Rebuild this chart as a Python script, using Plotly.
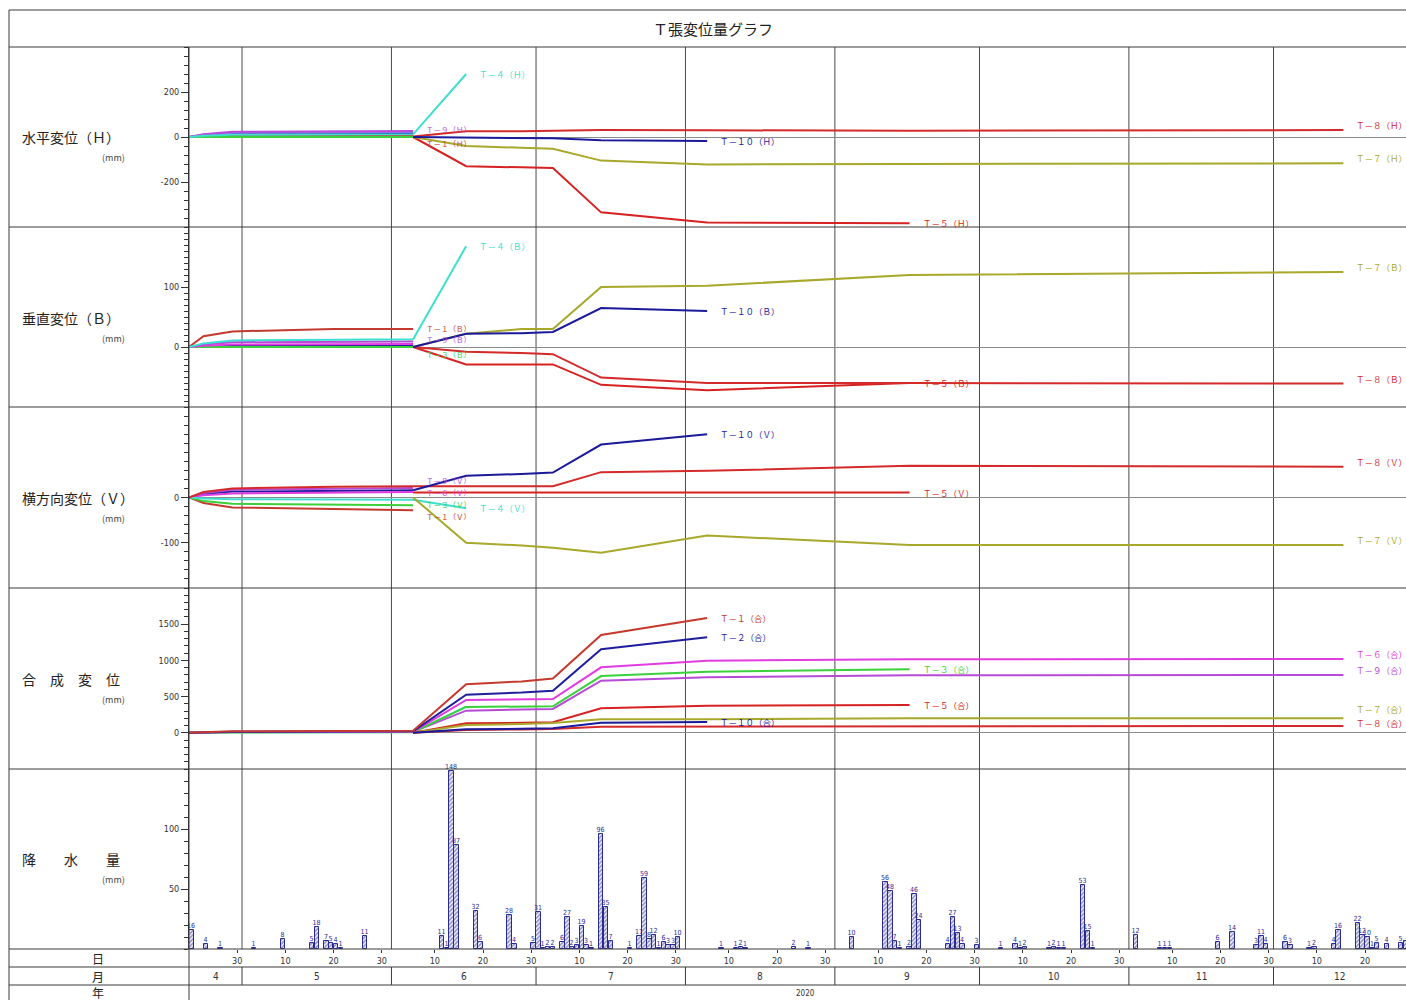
import plotly.graph_objects as go
import pandas as pd

N = None
# measurement dates (common to all instruments)
DATES = ["2020-04-20 00:00", "2020-04-23 00:00", "2020-04-29 00:00", "2020-05-20 00:00",
         "2020-06-05 12:00", "2020-06-16 12:00", "2020-06-28 00:00", "2020-07-04 12:00",
         "2020-07-14 12:00", "2020-08-05 12:00", "2020-09-16 12:00", "2020-12-15 12:00"]

# 水平変位 (H) mm
H_T1 = [0, 4, 7, 8, 8, N, N, N, N, N, N, N]
H_T2 = [0, 8, 15, 17, 18, N, N, N, N, N, N, N]
H_T3 = [0, 0, 1, 1, 0, N, N, N, N, N, N, N]
H_T4 = [0, 6, 10, 11, 12, 280, N, N, N, N, N, N]
H_T6 = [0, 10, 19, 21, 22, N, N, N, N, N, N, N]
H_T9 = [0, 12, 23, 26, 27, N, N, N, N, N, N, N]
H_T5 = [N, N, N, N, 0, -130, -135, -138, -335, -380, -383, N]
H_T7 = [N, N, N, N, 0, -40, -48, -52, -105, -122, -120, -117]
H_T8 = [N, N, N, N, 2, 25, 26, 27, 31, 30, 28, 31]
H_T10 = [N, N, N, N, 0, -3, -5, -6, -15, -18, N, N]

# 垂直変位 (B) mm
B_T1 = [0, 18, 26, 30, 30, N, N, N, N, N, N, N]
B_T2 = [0, 1, 2, 2, 2, N, N, N, N, N, N, N]
B_T3 = [0, 0, 0, 0, 0, N, N, N, N, N, N, N]
B_T4 = [0, 6, 11, 12, 13, 168, N, N, N, N, N, N]
B_T6 = [0, 2, 4, 5, 5, N, N, N, N, N, N, N]
B_T9 = [0, 4, 8, 9, 9, N, N, N, N, N, N, N]
B_T5 = [N, N, N, N, 0, -29, -29, -29, -63, -72, -60, N]
B_T7 = [N, N, N, N, 0, 22, 30, 30, 100, 102, 120, 125]
B_T8 = [N, N, N, N, 0, -8, -10, -12, -51, -60, -60, -61]
B_T10 = [N, N, N, N, 0, 22, 23, 25, 65, 60, N, N]

# 横方向変位 (V) mm
V_T1 = [0, -12, -22, -26, -28, N, N, N, N, N, N, N]
V_T2 = [0, 8, 13, 15, 16, N, N, N, N, N, N, N]
V_T3 = [0, -8, -14, -16, -17, N, N, N, N, N, N, N]
V_T4 = [0, -2, -4, -5, -5, -24, N, N, N, N, N, N]
V_T6 = [0, 5, 9, 11, 12, N, N, N, N, N, N, N]
V_T9 = [0, 10, 17, 20, 21, N, N, N, N, N, N, N]
V_T8 = [0, 12, 20, 24, 25, 25, 25, 25, 56, 59, 70, 68]
V_T5 = [N, N, N, N, 11, 11, 11, 11, 11, 11, 11, N]
V_T7 = [N, N, N, N, 0, -100, -106, -111, -122, -84, -105, -105]
V_T10 = [N, N, N, N, 16, 48, 52, 55, 117, 140, N, N]

# 合成変位 mm
C_T1 = [0, 10, 20, 25, 30, 670, 710, 750, 1350, 1585, N, N]
C_T2 = [0, 8, 15, 18, 20, 527, 555, 582, 1153, 1319, N, N]
C_T3 = [0, 3, 5, 6, 8, 358, 362, 365, 784, 844, 877, N]
C_T4 = [0, 3, 6, 8, 10, 361, N, N, N, N, N, N]
C_T6 = [0, 5, 10, 12, 15, 453, 460, 467, 904, 996, 1015, 1020]
C_T9 = [0, 5, 10, 12, 15, 306, 318, 329, 720, 766, 794, 800]
C_T5 = [N, N, N, N, 0, 131, 138, 145, 338, 375, 384, N]
C_T7 = [N, N, N, N, 0, 108, 122, 135, 186, 186, 200, 200]
C_T8 = [N, N, N, N, 0, 39, 47, 54, 84, 87, 90, 95]
C_T10 = [N, N, N, N, 0, 48, 55, 62, 140, 149, N, N]

# 降水量 (daily) mm
RAIN_DATES = ["2020-04-20", "2020-04-23", "2020-04-26", "2020-05-03", "2020-05-09", "2020-05-15",
              "2020-05-16", "2020-05-18", "2020-05-19", "2020-05-20", "2020-05-21", "2020-05-26",
              "2020-06-11", "2020-06-12", "2020-06-13", "2020-06-14", "2020-06-18", "2020-06-19",
              "2020-06-25", "2020-06-26", "2020-06-30", "2020-07-01", "2020-07-02", "2020-07-03",
              "2020-07-04", "2020-07-06", "2020-07-07", "2020-07-08", "2020-07-09", "2020-07-10",
              "2020-07-11", "2020-07-12", "2020-07-14", "2020-07-15", "2020-07-16", "2020-07-20",
              "2020-07-22", "2020-07-23", "2020-07-24", "2020-07-25", "2020-07-26", "2020-07-27",
              "2020-07-28", "2020-07-29", "2020-07-30", "2020-08-08", "2020-08-11", "2020-08-12",
              "2020-08-13", "2020-08-23", "2020-08-26", "2020-09-04", "2020-09-11", "2020-09-12",
              "2020-09-13", "2020-09-14", "2020-09-16", "2020-09-17", "2020-09-18", "2020-09-24",
              "2020-09-25", "2020-09-26", "2020-09-27", "2020-09-30", "2020-10-05", "2020-10-08",
              "2020-10-09", "2020-10-10", "2020-10-15", "2020-10-16", "2020-10-17", "2020-10-18",
              "2020-10-22", "2020-10-23", "2020-10-24", "2020-11-02", "2020-11-07", "2020-11-08",
              "2020-11-09", "2020-11-19", "2020-11-22", "2020-11-27", "2020-11-28", "2020-11-29",
              "2020-12-03", "2020-12-04", "2020-12-08", "2020-12-09", "2020-12-13", "2020-12-14",
              "2020-12-18", "2020-12-19", "2020-12-20", "2020-12-21", "2020-12-22", "2020-12-24",
              "2020-12-27", "2020-12-28"]
RAIN_MM = [16, 4, 1, 1, 8, 5,
           18, 7, 5, 4, 1, 11,
           11, 1, 148, 87, 32, 6,
           28, 4, 5, 31, 1, 2,
           2, 6, 27, 2, 3, 19,
           3, 1, 96, 35, 7, 1,
           11, 59, 8, 12, 1, 6,
           3, 3, 10, 1, 1, 2,
           1, 2, 1, 10, 56, 48,
           7, 1, 2, 46, 24, 4,
           27, 13, 4, 3, 1, 4,
           1, 2, 1, 2, 1, 1,
           53, 15, 1, 12, 1, 1,
           1, 6, 14, 3, 11, 4,
           6, 3, 1, 2, 4, 16,
           22, 12, 10, 1, 5, 4,
           5, 7]

# axis / table text
DAY_TICKS = ["2020-04-30", "2020-05-10", "2020-05-20", "2020-05-30", "2020-06-10", "2020-06-20",
             "2020-06-30", "2020-07-10", "2020-07-20", "2020-07-30", "2020-08-10", "2020-08-20",
             "2020-08-30", "2020-09-10", "2020-09-20", "2020-09-30", "2020-10-10", "2020-10-20",
             "2020-10-30", "2020-11-10", "2020-11-20", "2020-11-30", "2020-12-10", "2020-12-20"]
DAY_TEXT = ["30", "10", "20", "30", "10", "20", "30", "10", "20", "30", "10", "20",
            "30", "10", "20", "30", "10", "20", "30", "10", "20", "30", "10", "20"]
MONTH_STARTS = ["2020-04-01", "2020-05-01", "2020-06-01", "2020-07-01", "2020-08-01",
                "2020-09-01", "2020-10-01", "2020-11-01", "2020-12-01", "2021-01-01"]
MONTH_TEXT = ["4", "5", "6", "7", "8", "9", "10", "11", "12"]
YEAR_TEXT = "2020"
X0, X1 = "2020-04-20 00:00", "2020-12-28 11:45"

W, H = 1406, 1000
CJK = "Noto Sans CJK JP"
NUM = "Liberation Sans Narrow, DejaVu Sans Condensed, Arial Narrow, sans-serif"
INK = "#333333"
C1, C2, C3, C4, C5 = "#c43a2e", "#1f1f9e", "#3ad13a", "#3edfcf", "#d62222"
C6, C7, C8, C9, C10 = "#e03ce0", "#a8a82a", "#d42a2a", "#b84ad8", "#1a1a9a"
NAVY = "#2a2a96"


def px(x):
    return x / W


def py(y):
    return 1 - y / H


def fw(s):
    return s.translate(str.maketrans("0123456789-", "０１２３４５６７８９－"))


fig = go.Figure()
annotations = []


def add_series(name, vals, color, yaxis, tag, label=True, extra_shift=0, size=8.5):
    fig.add_trace(go.Scatter(x=DATES, y=vals, mode="lines", line=dict(color=color, width=2),
                             xaxis="x", yaxis=yaxis, hoverinfo="skip", showlegend=False))
    if not label:
        return
    idx = max(i for i, v in enumerate(vals) if v is not None)
    shift = 5 if idx == len(vals) - 1 else 0
    annotations.append(dict(x=DATES[idx], y=vals[idx], xref="x", yref=yaxis, xanchor="left",
                            yanchor="middle", xshift=11, yshift=shift + extra_shift,
                            text="Ｔ" + fw("-" + name) + "（" + tag + "）", showarrow=False,
                            font=dict(family=CJK, size=size, color=color)))


SMALL = 7.5  # crowded labels at the 6/5 readings

# H panel
add_series("1", H_T1, C1, "y", "Ｈ", True, -8, SMALL)
add_series("2", H_T2, C2, "y", "Ｈ", False)
add_series("3", H_T3, C3, "y", "Ｈ", False)
add_series("6", H_T6, "#8a7ae8", "y", "Ｈ", False)
add_series("9", H_T9, C9, "y", "Ｈ", True, 1, SMALL)
add_series("4", H_T4, C4, "y", "Ｈ")
add_series("5", H_T5, C5, "y", "Ｈ")
add_series("7", H_T7, C7, "y", "Ｈ")
add_series("8", H_T8, C8, "y", "Ｈ")
add_series("10", H_T10, C10, "y", "Ｈ")

# B panel
add_series("1", B_T1, C1, "y2", "Ｂ", True, 1, SMALL)
add_series("2", B_T2, C2, "y2", "Ｂ", False)
add_series("3", B_T3, C3, "y2", "Ｂ", True, -7, SMALL)
add_series("6", B_T6, C6, "y2", "Ｂ", False)
add_series("9", B_T9, C9, "y2", "Ｂ", True, 2, SMALL)
add_series("4", B_T4, C4, "y2", "Ｂ")
add_series("5", B_T5, C5, "y2", "Ｂ")
add_series("7", B_T7, C7, "y2", "Ｂ")
add_series("8", B_T8, C8, "y2", "Ｂ")
add_series("10", B_T10, C10, "y2", "Ｂ")

# V panel
add_series("1", V_T1, C1, "y3", "Ｖ", True, -6, SMALL)
add_series("2", V_T2, C2, "y3", "Ｖ", False)
add_series("3", V_T3, C3, "y3", "Ｖ", True, 1, SMALL)
add_series("6", V_T6, C6, "y3", "Ｖ", True, 0, SMALL)
add_series("9", V_T9, C9, "y3", "Ｖ", True, 8, SMALL)
add_series("4", V_T4, C4, "y3", "Ｖ")
add_series("8", V_T8, C8, "y3", "Ｖ")
add_series("5", V_T5, C5, "y3", "Ｖ")
add_series("7", V_T7, C7, "y3", "Ｖ")
add_series("10", V_T10, C10, "y3", "Ｖ")

# 合成 panel
add_series("4", C_T4, C4, "y4", "合", False)
add_series("9", C_T9, C9, "y4", "合")
add_series("3", C_T3, C3, "y4", "合")
add_series("6", C_T6, C6, "y4", "合")
add_series("2", C_T2, C2, "y4", "合")
add_series("1", C_T1, C1, "y4", "合")
add_series("5", C_T5, C5, "y4", "合")
add_series("7", C_T7, C7, "y4", "合", True, 4)
add_series("8", C_T8, C8, "y4", "合", True, -2)
add_series("10", C_T10, C10, "y4", "合")

# rainfall bars (each bar covers its day)
rain_x = [pd.Timestamp(d) + pd.Timedelta(hours=12) for d in RAIN_DATES]
fig.add_trace(go.Bar(
    x=rain_x, y=RAIN_MM, width=0.92 * 86400000, xaxis="x", yaxis="y5",
    marker=dict(color="white", line=dict(color=NAVY, width=1),
                pattern=dict(shape="/", fgcolor=NAVY, bgcolor="white", size=3, solidity=0.6)),
    text=[str(v) for v in RAIN_MM], textposition="outside", cliponaxis=False,
    constraintext="none", textfont=dict(family=NUM, size=7, color=NAVY),
    hoverinfo="skip", showlegend=False))

# axes
xdom = [px(189), 1]
ytick_font = dict(family=NUM, size=9, color=INK)


def yax(top, bottom, rng, vals, minor_dtick, zero=True):
    return dict(domain=[py(bottom), py(top)], range=rng, anchor="x", tickmode="array",
                tickvals=vals, ticktext=[str(v) for v in vals], ticks="outside", ticklen=7,
                tickcolor=INK, tickfont=ytick_font, showline=True, linecolor=INK, linewidth=1,
                showgrid=False, zeroline=zero, zerolinecolor="#8a8a8a", zerolinewidth=1,
                minor=dict(tickmode="linear", tick0=0, dtick=minor_dtick, ticks="outside",
                           ticklen=4, tickcolor=INK),
                fixedrange=True)


fig.update_layout(
    width=W, height=H, margin=dict(l=0, r=0, t=0, b=0),
    paper_bgcolor="white", plot_bgcolor="rgba(0,0,0,0)", showlegend=False, bargap=0,
    xaxis=dict(type="date", domain=xdom, range=[X0, X1], anchor="y5", tickmode="array",
               tickvals=DAY_TICKS, ticktext=DAY_TEXT, ticks="outside", ticklen=3, tickcolor=INK,
               tickfont=dict(family=NUM, size=9, color=INK), showgrid=False, showline=False,
               zeroline=False, fixedrange=True),
    yaxis=yax(47, 227, [-400, 400], [-200, 0, 200], 40),
    yaxis2=yax(227, 407, [-100, 200], [0, 100], 10),
    yaxis3=yax(407, 588, [-200, 200], [-100, 0], 20),
    yaxis4=yax(588, 769, [-500, 2000], [0, 500, 1000, 1500], 100),
    yaxis5=yax(769, 949, [0, 150], [50, 100], 10, zero=False),
)

shapes = []
line_style = dict(color="#3a3a3a", width=1)
for y in [10, 47, 227, 407, 588, 769, 949, 967, 985]:
    shapes.append(dict(type="line", xref="paper", yref="paper", x0=px(9), x1=1,
                       y0=py(y), y1=py(y), line=line_style))
shapes.append(dict(type="line", xref="paper", yref="paper", x0=px(9), x1=px(9),
                   y0=py(10), y1=py(1000), line=line_style))
shapes.append(dict(type="line", xref="paper", yref="paper", x0=px(189), x1=px(189),
                   y0=py(47), y1=py(1000), line=line_style))
for d in MONTH_STARTS[1:-1]:
    shapes.append(dict(type="line", xref="x", yref="paper", x0=d, x1=d, y0=py(949), y1=py(47),
                       line=dict(color="#4a4a4a", width=1), layer="below"))
    shapes.append(dict(type="line", xref="x", yref="paper", x0=d, x1=d, y0=py(985), y1=py(967),
                       line=line_style))
fig.update_layout(shapes=shapes)


def note(x, y, text, size, family=CJK, color="#222", xanchor="center", xref="paper"):
    annotations.append(dict(x=x, y=y, xref=xref, yref="paper", xanchor=xanchor, yanchor="middle",
                            text=text, showarrow=False, font=dict(family=family, size=size, color=color)))


# month and year labels
t0, t1 = pd.Timestamp(X0), pd.Timestamp(X1)
for i, m in enumerate(MONTH_TEXT):
    a = max(pd.Timestamp(MONTH_STARTS[i]), t0)
    b = min(pd.Timestamp(MONTH_STARTS[i + 1]), t1)
    note(a + (b - a) / 2, py(976), m, 10, NUM, INK, xref="x")
ya = pd.Timestamp(MONTH_STARTS[-1])
note(t0 + (ya - t0) / 2, py(993), YEAR_TEXT, 8, NUM, INK, xref="x")

# title, panel labels, table labels
note(px(713), py(28), "Ｔ張変位量グラフ", 15)
PANEL_LABELS = [("水平変位（Ｈ）", 137), ("垂直変位（Ｂ）", 318), ("横方向変位（Ｖ）", 498),
                ("合　成　変　位", 679), ("降　　水　　量", 859)]
for txt, y in PANEL_LABELS:
    note(px(20), py(y), txt, 14, xanchor="left")
    note(px(127), py(y + 20), "(mm)", 9, color="#444", xanchor="right")
for txt, y in [("日", 958), ("月", 976), ("年", 992)]:
    note(px(98), py(y), txt, 12)

fig.update_layout(annotations=annotations)
fig.write_html("out.html")
